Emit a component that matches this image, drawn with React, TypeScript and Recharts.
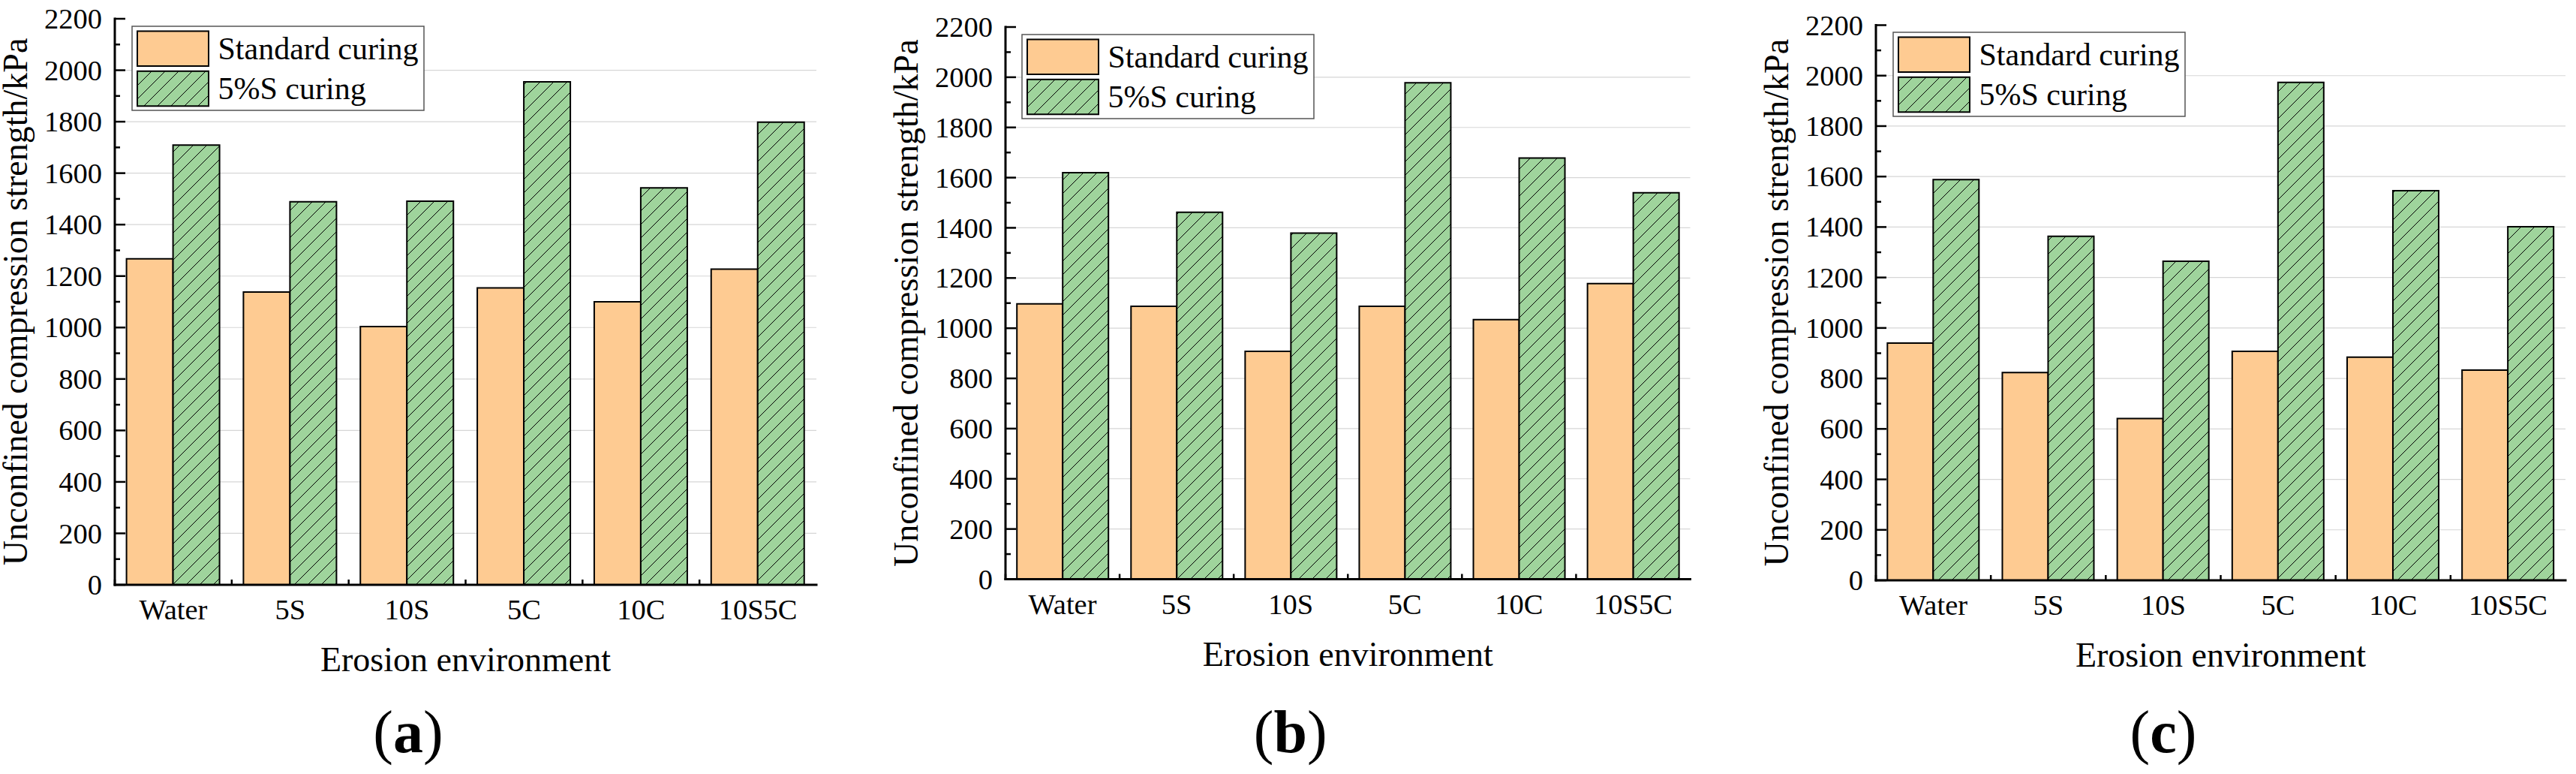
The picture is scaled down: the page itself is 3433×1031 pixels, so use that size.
import React from "react";
import { Bar, BarChart, CartesianGrid, Legend, XAxis, YAxis } from "recharts";

const categories = ["Water", "5S", "10S", "5C", "10C", "10S5C"];

const standardA = [1267, 1138, 1004, 1154, 1100, 1227];
const sulfateA = [1709, 1489, 1491, 1955, 1543, 1798];
const standardB = [1097, 1087, 908, 1087, 1034, 1178];
const sulfateB = [1620, 1462, 1379, 1978, 1678, 1540];
const standardC = [940, 823, 641, 907, 884, 833];
const sulfateC = [1588, 1363, 1264, 1973, 1544, 1401];

const yTicks = [
  0, 100, 200, 300, 400, 500, 600, 700, 800, 900, 1000, 1100,
  1200, 1300, 1400, 1500, 1600, 1700, 1800, 1900, 2000, 2100, 2200,
];
const gridValues = [200, 400, 600, 800, 1000, 1200, 1400, 1600, 1800, 2000];
const seriesNames = ["Standard curing", "5%S curing"];
const panelTags = ["a", "b", "c"];
const xTitle = "Erosion environment";
const yTitle = "Unconfined compression strength/kPa";

const FONT = "'Times New Roman', 'Liberation Serif', serif";
const ORANGE = "#FECB92";
const GREEN = "#9FD49C";
const H = 1031;
const PAD = 170;
const Y_AXIS_W = 60;
const X_AXIS_H = 60;

// plot frames of the three panels, in page pixels
const frames = [
  { left: 153, right: 1088, top: 25, bottom: 779 },
  { left: 1339.5, right: 2252, top: 36, bottom: 771.5 },
  { left: 2500, right: 3419, top: 33.5, bottom: 773 },
];

const frameLine = { stroke: "#000", strokeWidth: 3, strokeLinecap: "square" as const };

const XTick = (props: any) => {
  const { x, y, payload, band } = props;
  return (
    <g>
      <line x1={x - band / 2} x2={x - band / 2} y1={y} y2={y - 7} stroke="#000" strokeWidth={2.5} />
      <text x={x} y={y + 46} textAnchor="middle" fontFamily={FONT} fontSize={38.5} fill="#000">
        {payload.value}
      </text>
    </g>
  );
};

const YTick = (props: any) => {
  const { x, y, payload } = props;
  const major = payload.value % 200 === 0;
  return (
    <g>
      <line x1={x} x2={x + (major ? 14 : 7)} y1={y} y2={y} stroke="#000" strokeWidth={2.5} />
      {major && (
        <text x={x - 17} y={y} dy="0.34em" textAnchor="end" fontFamily={FONT} fontSize={38.5} fill="#000">
          {payload.value}
        </text>
      )}
    </g>
  );
};

const LegendBox = () => (
  <svg width={394} height={118}>
    <rect x={2} y={2} width={389} height={112} fill="#fff" stroke="#555" strokeWidth={1.5} />
    {seriesNames.map((name, i) => (
      <g key={name}>
        <rect
          x={9}
          y={8.5 + i * 53.3}
          width={95}
          height={46.5}
          fill={i === 0 ? ORANGE : "url(#hatch-green)"}
          stroke="#000"
          strokeWidth={2}
        />
        <text x={116.5} y={8.5 + i * 53.3 + 23 + 14} fontFamily={FONT} fontSize={42} fill="#000">
          {name}
        </text>
      </g>
    ))}
  </svg>
);

interface PanelProps {
  frame: { left: number; right: number; top: number; bottom: number };
  standard: number[];
  sulfate: number[];
  tag: string;
}

const Panel = ({ frame, standard, sulfate, tag }: PanelProps) => {
  const data = categories.map((category, i) => ({
    category,
    standard: standard[i],
    sulfate: sulfate[i],
  }));
  const plotW = frame.right - frame.left;
  const width = plotW + PAD + 12;
  const band = plotW / categories.length;
  const midX = PAD + plotW / 2;
  const midY = (frame.top + frame.bottom) / 2;

  return (
    <div style={{ position: "absolute", left: frame.left - PAD, top: 0, width, height: H }}>
      <BarChart
        width={width}
        height={H}
        data={data}
        margin={{ top: frame.top, right: 12, bottom: H - frame.bottom - X_AXIS_H, left: PAD - Y_AXIS_W }}
        barCategoryGap="10%"
        barGap={0}
      >
        <CartesianGrid vertical={false} horizontalValues={gridValues} stroke="#d6d6d6" strokeWidth={1.2} />
        <XAxis
          dataKey="category"
          height={X_AXIS_H}
          interval={0}
          tickLine={false}
          tickSize={0}
          tickMargin={0}
          axisLine={frameLine}
          tick={<XTick band={band} />}
        />
        <XAxis xAxisId="top" orientation="top" dataKey="category" height={0} tick={false} tickLine={false} axisLine={frameLine} />
        <YAxis
          domain={[0, 2200]}
          ticks={yTicks}
          interval={0}
          width={Y_AXIS_W}
          tickLine={false}
          tickSize={0}
          tickMargin={0}
          axisLine={frameLine}
          tick={<YTick />}
        />
        <YAxis yAxisId="right" orientation="right" domain={[0, 2200]} width={0} tick={false} tickLine={false} axisLine={frameLine} />
        <Legend
          layout="vertical"
          align="center"
          verticalAlign="middle"
          content={() => <LegendBox />}
          wrapperStyle={{ left: PAD + 20.5, top: frame.top + 7.5, width: 394, height: 118 }}
        />
        <Bar dataKey="standard" name={seriesNames[0]} fill={ORANGE} stroke="#000" strokeWidth={2} isAnimationActive={false} />
        <Bar dataKey="sulfate" name={seriesNames[1]} fill="url(#hatch-green)" stroke="#000" strokeWidth={2} isAnimationActive={false} />
      </BarChart>
      <svg width={width} height={H} style={{ position: "absolute", left: 0, top: 0, pointerEvents: "none" }}>
        <text
          x={PAD - 117}
          y={midY}
          transform={`rotate(-90, ${PAD - 117}, ${midY})`}
          textAnchor="middle"
          fontFamily={FONT}
          fontSize={46}
          fill="#000"
        >
          {yTitle}
        </text>
        <text x={midX} y={frame.bottom + 115} textAnchor="middle" fontFamily={FONT} fontSize={46} fill="#000">
          {xTitle}
        </text>
        <text x={midX - 76.5} y={1002} textAnchor="middle" fontFamily={FONT} fontSize={80} fill="#000">
          (<tspan fontWeight="bold">{tag}</tspan>)
        </text>
      </svg>
    </div>
  );
};

export default function App() {
  return (
    <div style={{ position: "absolute", left: 0, top: 0, width: 3433, height: H, background: "#fff" }}>
      <svg width={0} height={0} style={{ position: "absolute" }}>
        <defs>
          <pattern id="hatch-green" patternUnits="userSpaceOnUse" width={18} height={18}>
            <rect width={18} height={18} fill={GREEN} />
            <path d="M0,18 L18,0 M-4.5,4.5 L4.5,-4.5 M13.5,22.5 L22.5,13.5" stroke="#000" strokeWidth={1} />
          </pattern>
        </defs>
      </svg>
      <Panel frame={frames[0]} standard={standardA} sulfate={sulfateA} tag={panelTags[0]} />
      <Panel frame={frames[1]} standard={standardB} sulfate={sulfateB} tag={panelTags[1]} />
      <Panel frame={frames[2]} standard={standardC} sulfate={sulfateC} tag={panelTags[2]} />
    </div>
  );
}
